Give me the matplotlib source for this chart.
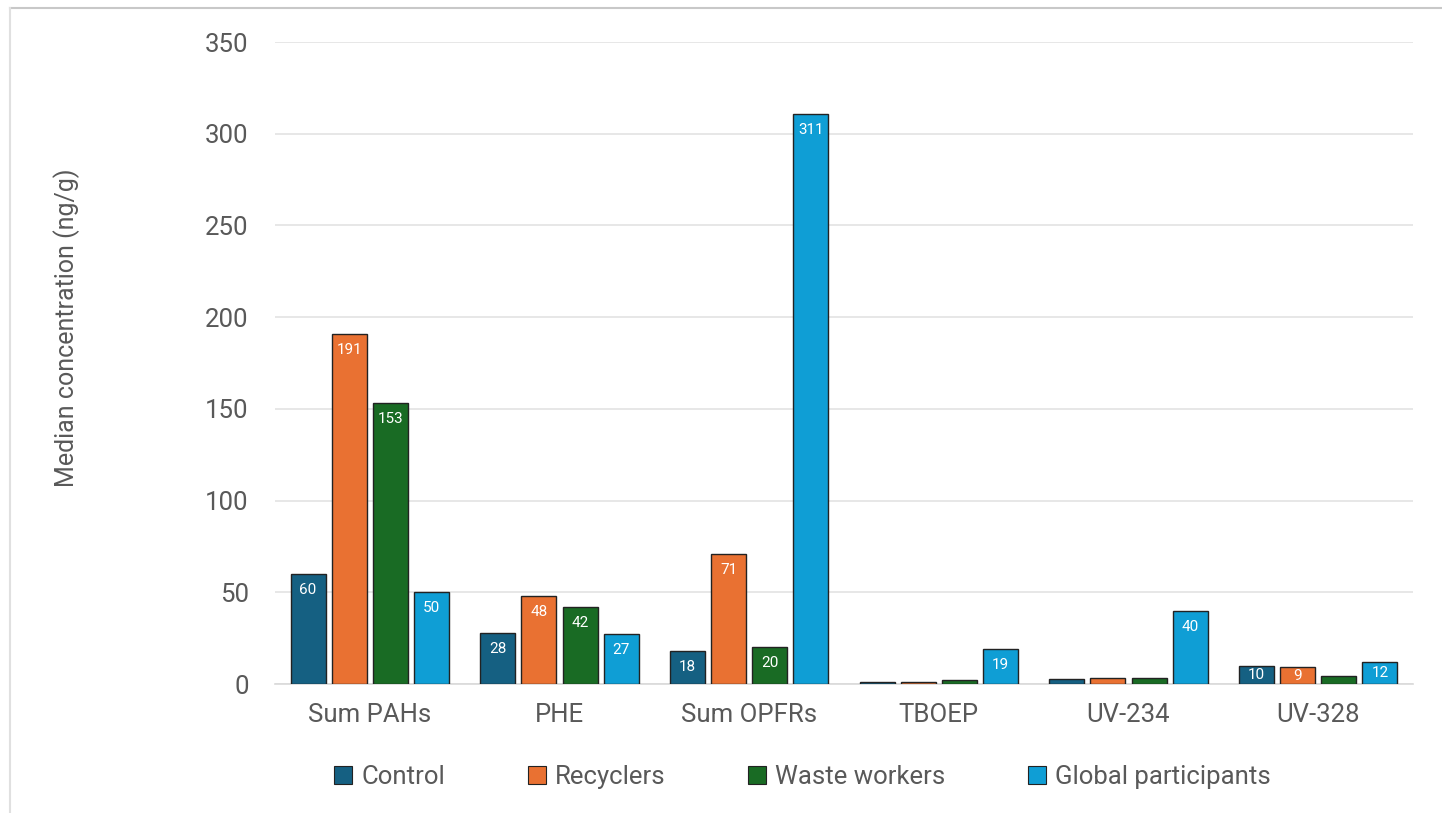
import numpy as np
import matplotlib
matplotlib.use("Agg")
import matplotlib.pyplot as plt
from matplotlib.lines import Line2D

categories = ["Sum PAHs", "PHE", "Sum OPFRs", "TBOEP", "UV-234", "UV-328"]
groups = ["Control", "Recyclers", "Waste workers", "Global participants"]
control = [60, 28, 18, 1.3, 2.5, 10]
recyclers = [191, 48, 71, 0.9, 3.4, 9]
waste = [153, 42, 20, 2.2, 3.4, 4.5]
global_p = [50, 27, 311, 19, 40, 12]
# which bars carry a value label
labelled = [
    [True, True, True, False, False, True],
    [True, True, True, False, False, True],
    [True, True, True, False, False, False],
    [True, True, True, True, True, True],
]
colors = ["#156082", "#e97132", "#196b24", "#0f9ed5"]

plt.rcParams["font.family"] = ["Roboto", "DejaVu Sans"]

fig = plt.figure(figsize=(14.42, 8.13), dpi=100)
ax = fig.add_axes([275 / 1442, 1 - 684 / 813, (1413 - 275) / 1442, (684 - 42) / 813])

x = np.arange(len(categories))
step = 0.217
width = 0.185
ax.set_ylim(0, 350)
# 16 px below the bar top, in data units
off = 16 * 350 / (684 - 42)
series = [control, recyclers, waste, global_p]
for i, vals in enumerate(series):
    pos = x + (i - 1.5) * step
    bars = ax.bar(pos, vals, width, color=colors[i], edgecolor="#222222",
                  linewidth=1.0, zorder=3, label=groups[i])
    for b, v, show in zip(bars, vals, labelled[i]):
        if show:
            ax.text(b.get_x() + b.get_width() / 2, max(v / 2, v - off), f"{v:.0f}",
                    ha="center", va="center", color="white", fontsize=11, zorder=4)

ax.set_xlim(-0.5, len(categories) - 0.5)
ax.set_yticks(range(0, 351, 50))
ax.yaxis.grid(True, color="#e3e3e3", linewidth=1.2, zorder=0)
ax.set_axisbelow(True)
for s in ["top", "right", "left"]:
    ax.spines[s].set_visible(False)
ax.spines["bottom"].set_color("#d9d9d9")
ax.spines["bottom"].set_linewidth(1.2)
ax.tick_params(axis="both", length=0, colors="#595959", labelsize=18.5)
ax.tick_params(axis="y", pad=19)
ax.tick_params(axis="x", pad=14)
ax.set_xticks(x)
ax.set_xticklabels(categories)
ax.set_ylabel("Median concentration (ng/g)", fontsize=18, color="#595959")
ax.yaxis.set_label_coords((80 - 275) / 1138, (684 - 328) / 642)

handles = [Line2D([], [], marker="s", linestyle="none", markersize=13,
                  markerfacecolor=c, markeredgecolor="#222222", markeredgewidth=0.8)
           for c in colors]
fig.legend(handles, groups, loc="center", bbox_to_anchor=(802 / 1442, 1 - 777 / 813),
           ncol=4, frameon=False, fontsize=18.5, labelcolor="#595959",
           handlelength=0.8, handletextpad=0.3, columnspacing=3.17)

# outer frame
fig.add_artist(Line2D([10 / 1442, 1], [1 - 8 / 813, 1 - 8 / 813], color="#c8c8c8",
                      linewidth=1.5, transform=fig.transFigure))
fig.add_artist(Line2D([10 / 1442, 10 / 1442], [0, 1 - 8 / 813], color="#e0e0e0",
                      linewidth=1.5, transform=fig.transFigure))

fig.savefig("out.png", dpi=100)
